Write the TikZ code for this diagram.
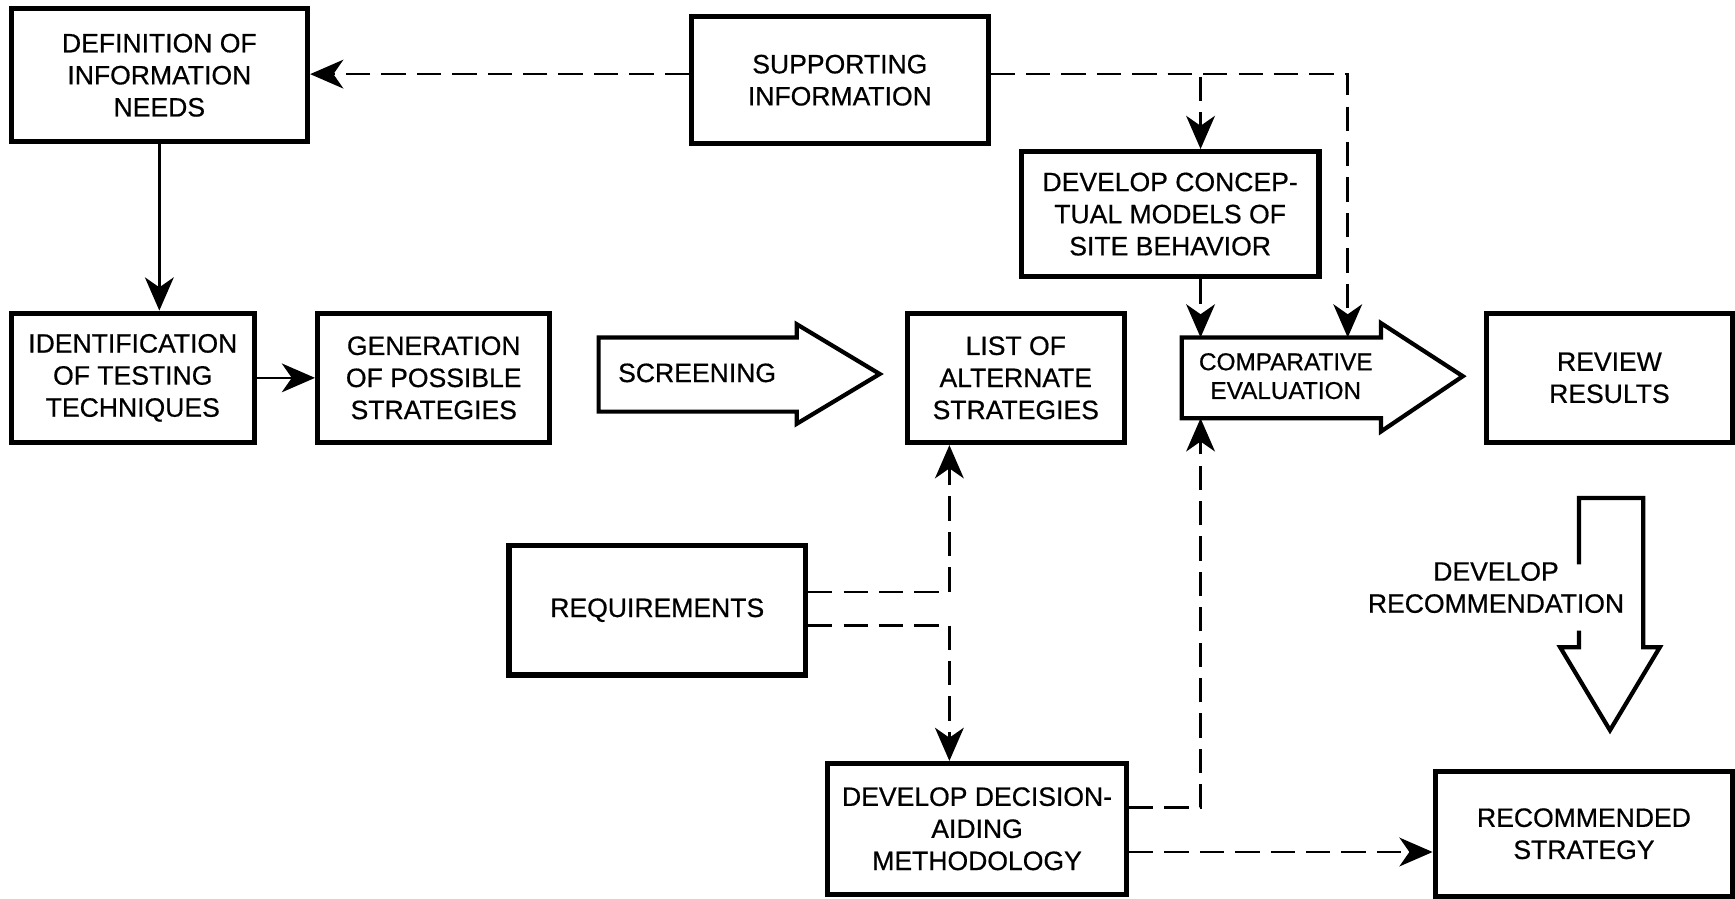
\documentclass[tikz,border=0pt]{standalone}
\usepackage{fontspec}
\setmainfont{Liberation Sans}[UprightFeatures={FakeBold=0.6}]
\usetikzlibrary{arrows.meta}
\begin{document}
\begin{tikzpicture}[x=0.5pt,y=-0.5pt,
  txt/.style={align=center, inner sep=0pt, font=\fontsize{12}{14.5}\selectfont},
  box/.style={txt, draw, line width=2.3pt},
  conn/.style={line width=1.2pt, -{Stealth[length=15pt,width=13pt,inset=4.5pt]}},
  dconn/.style={conn, dash pattern=on 11pt off 5pt},
  blk/.style={draw, line width=1.9pt, line join=miter}]
\useasboundingbox (0,0) rectangle (1568,812);
% boxes
\node[box, minimum width=134pt, minimum height=60pt] (def) at (144,68) {DEFINITION OF\\INFORMATION\\NEEDS};
\node[box, minimum width=134pt, minimum height=57.5pt] (supp) at (759,72.5) {SUPPORTING\\INFORMATION};
\node[box, minimum width=134.5pt, minimum height=56.5pt] (concept) at (1057.5,193.5) {DEVELOP CONCEP-\\TUAL MODELS OF\\SITE BEHAVIOR};
\node[box, minimum width=110pt, minimum height=58.5pt] (ident) at (120,341.5) {IDENTIFICATION\\OF TESTING\\TECHNIQUES};
\node[box, minimum width=105pt, minimum height=58.5pt] (gen) at (392,341.5) {GENERATION\\OF POSSIBLE\\STRATEGIES};
\node[box, minimum width=98pt, minimum height=58.5pt] (list) at (918,341.5) {LIST OF\\ALTERNATE\\STRATEGIES};
\node[box, minimum width=111.5pt, minimum height=58.5pt] (review) at (1454.5,341.5) {REVIEW\\RESULTS};
\node[box, minimum width=134pt, minimum height=58.5pt] (req) at (594,551.5) {REQUIREMENTS};
\node[box, minimum width=135pt, minimum height=59pt] (decision) at (883,749) {DEVELOP DECISION-\\AIDING\\METHODOLOGY};
\node[box, minimum width=134.5pt, minimum height=56.5pt] (recstrat) at (1431.5,753.5) {RECOMMENDED\\STRATEGY};
% block arrows
\draw[blk] (541,305) -- (720,305) -- (720,293) -- (795,338) -- (720,383) -- (720,372) -- (541,372) -- cycle;
\node[txt] (screen) at (630,337) {SCREENING};
\draw[blk] (1068,305) -- (1248,305) -- (1248,292) -- (1322,340) -- (1248,390) -- (1248,378) -- (1068,378) -- cycle;
\node[txt, font=\fontsize{11}{13}\selectfont] (cmp) at (1162,340) {COMPARATIVE\\EVALUATION};
\coordinate (cmpTopA) at (1085,305);
\coordinate (cmpTopB) at (1218,305);
\coordinate (cmpBot) at (1085,378);
\draw[blk] (1427,510) -- (1427,450) -- (1485,450) -- (1485,585) -- (1500,585) -- (1455,660) -- (1410,585) -- (1427,585) -- (1427,570);
\node[txt] (devrec) at (1352,531) {DEVELOP\\RECOMMENDATION};
% connectors
\draw[conn] (def.south) -- (def.south |- ident.north);
\draw[conn] (ident.east) -- (gen.west);
\draw[dconn] ([yshift=2.75pt]supp.west) -- ([yshift=2.75pt]supp.west -| def.east);
\coordinate (se) at ([yshift=2.75pt]supp.east);
\draw[dconn] (se) -| ([xshift=13.75pt]concept.north);
\draw[dconn] (se) -| (cmpTopB);
\draw[dconn] ([xshift=13.75pt]concept.south) -- (cmpTopA);
\coordinate (r1) at ([yshift=8.25pt]req.east);
\coordinate (r2) at ([yshift=-6.75pt]req.east);
\draw[dconn] (r1) -| ([xshift=-30pt]list.south);
\draw[dconn] (r2) -| ([xshift=-12.5pt]decision.north);
\coordinate (d1) at ([yshift=9.5pt]decision.east);
\coordinate (d2) at ([yshift=-10.5pt]decision.east);
\draw[dconn] (d1) -| (cmpBot);
\draw[dconn] (d2) -- (d2 -| recstrat.west);
\end{tikzpicture}
\end{document}
